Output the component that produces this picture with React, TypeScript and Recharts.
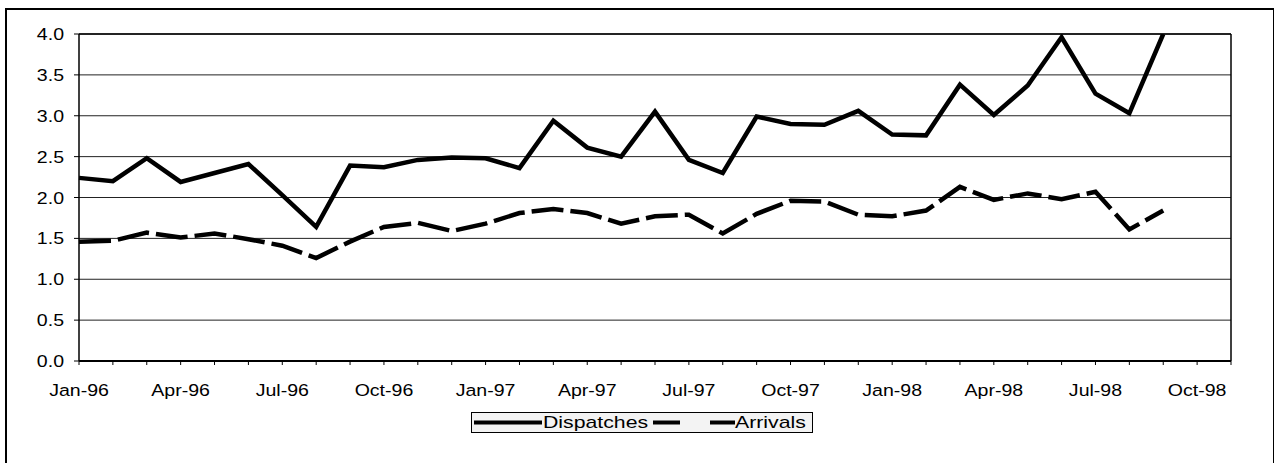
import { LineChart, Line, XAxis, YAxis, CartesianGrid, ReferenceLine } from 'recharts'

const MONTHS = [
  'Jan-96', 'Feb-96', 'Mar-96', 'Apr-96', 'May-96', 'Jun-96', 'Jul-96', 'Aug-96', 'Sep-96', 'Oct-96', 'Nov-96', 'Dec-96',
  'Jan-97', 'Feb-97', 'Mar-97', 'Apr-97', 'May-97', 'Jun-97', 'Jul-97', 'Aug-97', 'Sep-97', 'Oct-97', 'Nov-97', 'Dec-97',
  'Jan-98', 'Feb-98', 'Mar-98', 'Apr-98', 'May-98', 'Jun-98', 'Jul-98', 'Aug-98', 'Sep-98',
]
const DISPATCHES = [
  2.24, 2.20, 2.48, 2.19, 2.30, 2.41, 2.03, 1.64, 2.39, 2.37, 2.46, 2.49,
  2.48, 2.36, 2.94, 2.61, 2.50, 3.05, 2.46, 2.30, 2.99, 2.90, 2.89, 3.06,
  2.77, 2.76, 3.38, 3.01, 3.37, 3.96, 3.27, 3.03, 4.00,
]
const ARRIVALS = [
  1.46, 1.47, 1.57, 1.51, 1.56, 1.49, 1.41, 1.26, 1.46, 1.64, 1.69, 1.59,
  1.68, 1.81, 1.86, 1.81, 1.68, 1.77, 1.79, 1.56, 1.80, 1.96, 1.95, 1.79,
  1.77, 1.84, 2.13, 1.97, 2.05, 1.98, 2.07, 1.61, 1.84,
]
const TICK_LABELS = ['Jan-96', 'Apr-96', 'Jul-96', 'Oct-96', 'Jan-97', 'Apr-97', 'Jul-97', 'Oct-97', 'Jan-98', 'Apr-98', 'Jul-98', 'Oct-98']
const Y_TICKS = [0, 0.5, 1, 1.5, 2, 2.5, 3, 3.5, 4]

const N_MONTHS = 34 // axis runs Jan-96 .. Nov-98
const MONTH_TICKS = Array.from({ length: N_MONTHS + 1 }, (_, i) => i)

const FONT = "'Liberation Sans', Arial, sans-serif"
const STRETCH = 1.15

const data = MONTHS.map((m, i) => ({ idx: i, month: m, dispatches: DISPATCHES[i], arrivals: ARRIVALS[i] }))

function XTick(props: any) {
  const { x, y, payload } = props
  const v = payload.value as number
  if (v % 3 !== 0) return null
  const label = TICK_LABELS[v / 3]
  if (!label) return null
  return (
    <text transform={`translate(${x},${y + 29}) scale(${STRETCH},1)`} textAnchor="middle"
      fontFamily={FONT} fontSize={17} fill="#000">{label}</text>
  )
}

function YTick(props: any) {
  const { x, y, payload } = props
  return (
    <text transform={`translate(${x - 8},${y + 6}) scale(${STRETCH},1)`} textAnchor="end"
      fontFamily={FONT} fontSize={17} fill="#000">{(payload.value as number).toFixed(1)}</text>
  )
}

function LegendBox() {
  return (
    <svg width={342} height={21} style={{ display: 'block' }}>
      <rect x={0.5} y={0.5} width={341} height={20} fill="#f3f3f3" stroke="#000" />
      <line x1={3} y1={10.5} x2={71} y2={10.5} stroke="#000" strokeWidth={4} />
      <text transform={`translate(72,16) scale(1.25,1)`} fontFamily={FONT} fontSize={17} fill="#000">Dispatches</text>
      <line x1={182} y1={10.5} x2={209} y2={10.5} stroke="#000" strokeWidth={4} />
      <line x1={239} y1={10.5} x2={264} y2={10.5} stroke="#000" strokeWidth={4} />
      <text transform={`translate(264,16) scale(1.25,1)`} fontFamily={FONT} fontSize={17} fill="#000">Arrivals</text>
    </svg>
  )
}

export default function App() {
  return (
    <div style={{ position: 'relative', width: 1274, height: 463, background: '#fff', overflow: 'hidden' }}>
      <style>{'body{margin:0;overflow:hidden}'}</style>
      <div style={{ position: 'absolute', left: 5, top: 8, width: 1266, height: 470, border: '2px solid #000' }} />
      <div style={{ position: 'absolute', left: 0, top: 0 }}>
        <LineChart width={1274} height={463} data={data} margin={{ top: 34, right: 43, bottom: 62, left: 19 }}>
          <CartesianGrid horizontal vertical={false} stroke="#222" strokeWidth={1} />
          <XAxis dataKey="idx" type="number" domain={[0, N_MONTHS]} ticks={MONTH_TICKS} interval={0}
            axisLine={{ stroke: '#000', strokeWidth: 2 }} tickLine={{ stroke: '#000' }} tickSize={4}
            tick={<XTick />} height={40} />
          <YAxis domain={[0, 4]} ticks={Y_TICKS} interval={0} allowDataOverflow width={60}
            axisLine={{ stroke: '#000', strokeWidth: 1.5 }} tickLine={{ stroke: '#000' }} tickSize={5}
            tick={<YTick />} />
          <ReferenceLine x={N_MONTHS} stroke="#000" strokeWidth={1.5} />
          <ReferenceLine y={4} stroke="#000" strokeWidth={1.5} />
          <Line dataKey="dispatches" type="linear" stroke="#000" strokeWidth={4.5} dot={false}
            isAnimationActive={false} strokeLinejoin="miter" />
          <Line dataKey="arrivals" type="linear" stroke="#000" strokeWidth={4.5} dot={false}
            strokeDasharray="32 7" isAnimationActive={false} />
        </LineChart>
      </div>
      <div style={{ position: 'absolute', left: 471, top: 412 }}>
        <LegendBox />
      </div>
    </div>
  )
}
